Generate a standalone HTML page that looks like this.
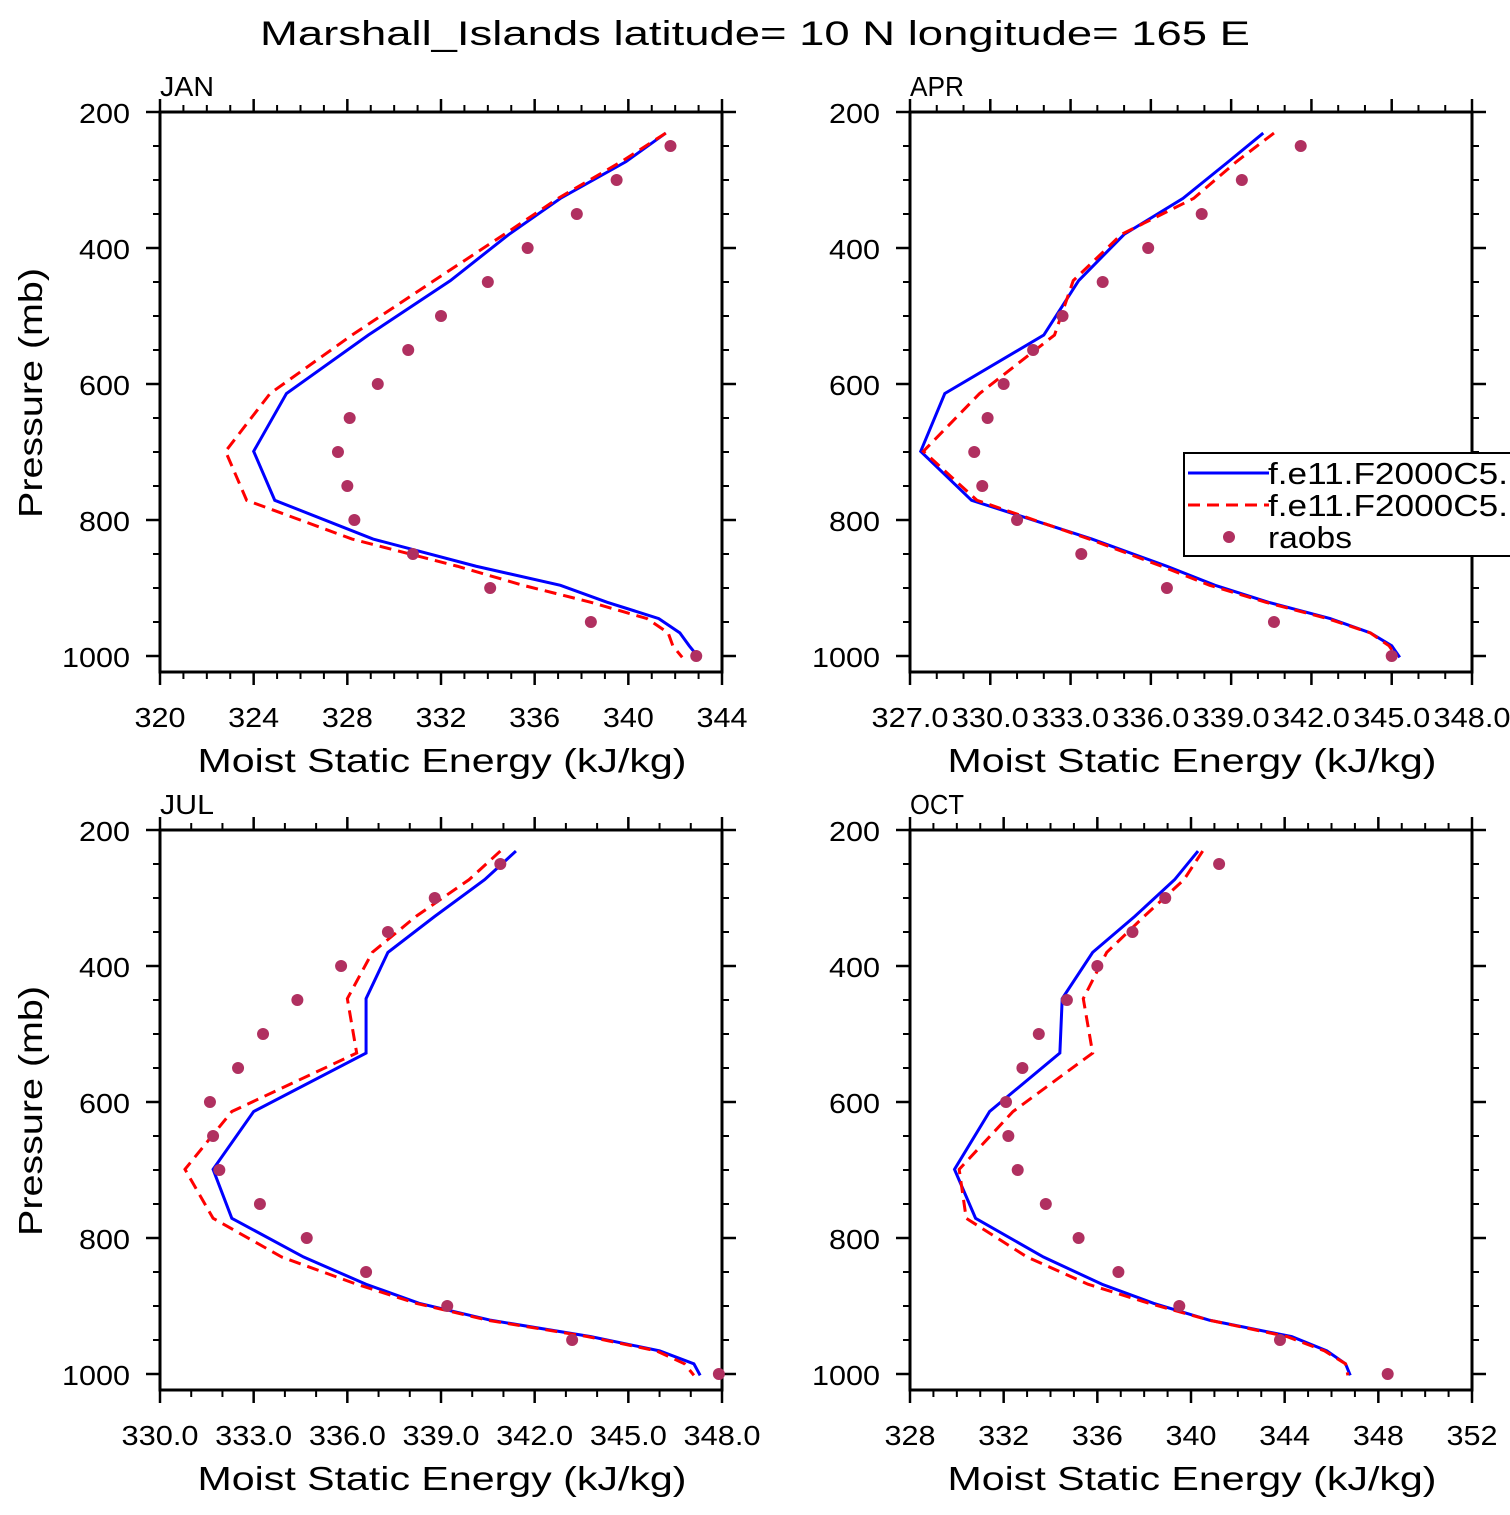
<!DOCTYPE html>
<html><head><meta charset="utf-8"><style>
html,body{margin:0;padding:0;background:#fff;}
svg text{font-family:"Liberation Sans",sans-serif;fill:#000;}
</style></head><body>
<svg id="fig" xmlns="http://www.w3.org/2000/svg" width="1510" height="1510" viewBox="0 0 1510 1510">
<rect width="1510" height="1510" fill="#fff"/>
<text x="755" y="45" font-size="34" text-anchor="middle" textLength="990" lengthAdjust="spacingAndGlyphs">Marshall_Islands   latitude= 10 N longitude= 165 E</text>
</svg>
<script>
const levels=[231,273,327,380,448,528,614,699,771,828,868,896,921,945,966,985,1002];
const obsLevels=[250,300,350,400,450,500,550,600,650,700,750,800,850,900,950,1000];
const janBlue=[341.6,339.9,337.1,334.9,332.4,328.9,325.4,324.0,324.9,329.1,333.5,337.1,339.1,341.3,342.2,342.6,343.0];
const janRed=[341.6,339.7,337.0,334.7,331.7,328.2,324.7,322.8,323.7,328.2,332.7,335.5,338.4,340.8,341.7,341.9,342.3];
const janObs=[341.8,339.5,337.8,335.7,334.0,332.0,330.6,329.3,328.1,327.6,328.0,328.3,330.8,334.1,338.4,342.9];
const aprBlue=[340.2,338.9,337.2,335.0,333.3,332.0,328.3,327.4,329.3,333.8,336.6,338.4,340.4,342.7,344.2,345.0,345.3];
const aprRed=[340.6,339.2,337.6,334.9,333.1,332.4,329.6,327.5,329.5,333.7,336.4,338.2,340.3,342.6,344.2,344.9,345.2];
const aprObs=[341.6,339.4,337.9,335.9,334.2,332.7,331.6,330.5,329.9,329.4,329.7,331.0,333.4,336.6,340.6,345.0];
const julBlue=[341.4,340.4,338.8,337.3,336.6,336.6,333.0,331.7,332.3,334.6,336.6,338.3,340.6,343.8,346.0,347.1,347.3];
const julRed=[340.9,339.9,338.2,336.8,336.0,336.3,332.3,330.8,331.7,333.9,336.3,338.2,340.5,343.7,345.9,346.8,347.1];
const julObs=[340.9,338.8,337.3,335.8,334.4,333.3,332.5,331.6,331.7,331.9,333.2,334.7,336.6,339.2,343.2,347.9];
const octBlue=[340.3,339.3,337.6,335.8,334.5,334.4,331.4,329.9,330.8,333.7,336.2,338.4,340.8,344.3,345.8,346.6,346.8];
const octRed=[340.5,339.7,338.0,336.4,335.4,335.8,332.4,330.1,330.4,333.0,335.6,338.2,340.8,344.1,345.7,346.6,346.7];
const octObs=[341.2,338.9,337.5,336.0,334.7,333.5,332.8,332.1,332.2,332.6,333.8,335.2,336.9,339.5,343.8,348.4];
const panelNames=["JAN","APR","JUL","OCT"];
const xMin=[320,327,330,328], xMax=[344,348,348,352], xStep=[4,3,3,4], xDec=[0,1,1,0];
const pTicks=[200,400,600,800,1000];

const NS="http://www.w3.org/2000/svg";
const svg=document.getElementById("fig");
function mk(tag,attrs,parent){const e=document.createElementNS(NS,tag);for(const k in attrs)e.setAttribute(k,attrs[k]);(parent||svg).appendChild(e);return e;}
function tlen(s){let w=0;for(const c of s)w+=(c==='.'?9:17);return w;}
const W=562,H=560;
const origins=[[160,112],[910,112],[160,830],[910,830]];
const series=[[janBlue,janRed,janObs],[aprBlue,aprRed,aprObs],[julBlue,julRed,julObs],[octBlue,octRed,octObs]];
panelNames.forEach((nm,i)=>{
  const [X0,Y0]=origins[i];
  const g=mk("g",{});
  
  
  const xs=v=>X0+(v-xMin[i])/(xMax[i]-xMin[i])*W;
  const ys=p=>Y0+(p-200)*0.68;
  const lab=mk("text",{x:X0,y:Y0-16,"font-size":28,textLength:nm.length*18,lengthAdjust:"spacingAndGlyphs"},g);lab.textContent=nm;
  
  
  const fr=mk("rect",{x:X0,y:Y0,width:W,height:H,fill:"none",stroke:"#000","stroke-width":3},g);
  
  
  for(let v=xMin[i];v<=xMax[i]+1e-6;v+=1){
    const x=xs(v);const major=Math.abs(((v-xMin[i])/xStep[i])-Math.round((v-xMin[i])/xStep[i]))<1e-6;
    const L=major?13:7;
    mk("line",{x1:x,x2:x,y1:Y0,y2:Y0-L,stroke:"#000","stroke-width":major?2.5:2},g);
    mk("line",{x1:x,x2:x,y1:Y0+H,y2:Y0+H+L,stroke:"#000","stroke-width":major?2.5:2},g);
    if(major){const s=v.toFixed(xDec[i]);const t=mk("text",{x:x,y:Y0+H+55,"font-size":28,"text-anchor":"middle",textLength:tlen(s),lengthAdjust:"spacingAndGlyphs"},g);t.textContent=s;
      
      }
  }
  for(let p=200;p<=1000;p+=50){
    const y=ys(p);const major=p%200===0;const L=major?14:7;
    mk("line",{x1:X0,x2:X0-L,y1:y,y2:y,stroke:"#000","stroke-width":major?2.5:2},g);
    mk("line",{x1:X0+W,x2:X0+W+L,y1:y,y2:y,stroke:"#000","stroke-width":major?2.5:2},g);
  }
  pTicks.forEach(p=>{const s=String(p);const t=mk("text",{x:X0-30,y:ys(p)+11,"font-size":28,"text-anchor":"end",textLength:tlen(s),lengthAdjust:"spacingAndGlyphs"},g);t.textContent=s;
    
    });
  const xt=mk("text",{x:X0+W/2+1,y:Y0+H+100,"font-size":33,"text-anchor":"middle",textLength:489,lengthAdjust:"spacingAndGlyphs"},g);xt.textContent="Moist Static Energy (kJ/kg)";
  
  
  if(i%2===0){const yt=mk("text",{x:0,y:0,"font-size":33,"text-anchor":"middle",textLength:250,lengthAdjust:"spacingAndGlyphs",transform:`translate(42,${Y0+281}) rotate(-90)`},g);yt.textContent="Pressure (mb)";
    
    }
  const [b,r,o]=series[i];
  const pb=mk("polyline",{points:b.map((v,k)=>xs(v)+","+ys(levels[k])).join(" "),fill:"none",stroke:"#0000ff","stroke-width":3},g);
  
  
  const pr=mk("polyline",{points:r.map((v,k)=>xs(v)+","+ys(levels[k])).join(" "),fill:"none",stroke:"#ff0000","stroke-width":3,"stroke-dasharray":"12,7"},g);
  
  
  o.forEach((v,k)=>{const c=mk("circle",{cx:xs(v),cy:ys(obsLevels[k]),r:6,fill:"#b03060"},g);
    
    });
});
const lg=mk("g",{});


mk("rect",{x:1184,y:453,width:340,height:103,fill:"#fff",stroke:"#000","stroke-width":2},lg);
mk("line",{x1:1188,x2:1269,y1:473,y2:473,stroke:"#0000ff","stroke-width":3},lg);
mk("line",{x1:1188,x2:1269,y1:505,y2:505,stroke:"#ff0000","stroke-width":3,"stroke-dasharray":"12,7"},lg);
mk("circle",{cx:1229,cy:537,r:6,fill:"#b03060"},lg);
[["f.e11.F2000C5.",484,240],["f.e11.F2000C5.",516,240],["raobs",548,84]].forEach(([s,y,w])=>{const t=mk("text",{x:1268,y:y,"font-size":31,textLength:w,lengthAdjust:"spacingAndGlyphs"},lg);t.textContent=s;
  
  });
</script>
</body></html>
